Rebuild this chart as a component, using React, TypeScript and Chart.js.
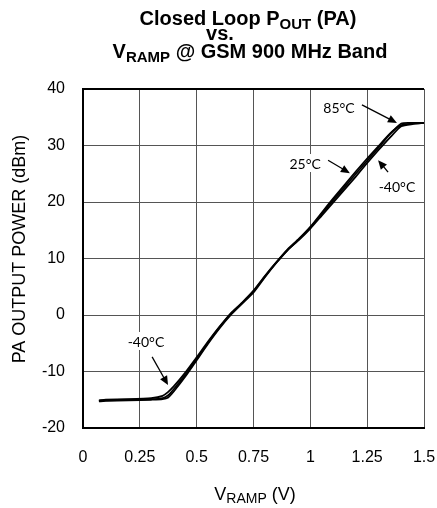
import React, { useEffect, useRef } from 'react';
import { Chart, registerables } from 'chart.js';

Chart.register(...registerables);

// ---- data ----
const vRamp = [0.07, 0.1, 0.2, 0.3, 0.35, 0.375, 0.4, 0.45, 0.5, 0.55, 0.6, 0.65, 0.7, 0.75, 0.8, 0.85, 0.9, 0.95, 1.0, 1.05, 1.1, 1.15, 1.2, 1.25, 1.3, 1.35, 1.4, 1.45, 1.5];
const pout85 = [-15.3, -15.2, -15.1, -15.0, -14.9, -14.6, -13.5, -10.9, -8.0, -5.1, -2.4, 0.0, 2.0, 4.0, 6.7, 9.2, 11.5, 13.4, 15.5, 17.9, 20.3, 22.6, 25.0, 27.3, 29.6, 32.0, 33.9, 34.0, 34.0];
const pout25 = [-15.2, -15.1, -15.0, -14.9, -14.7, -14.2, -13.1, -10.6, -7.8, -4.9, -2.2, 0.2, 2.1, 4.2, 6.8, 9.3, 11.6, 13.5, 15.6, 18.1, 20.6, 23.0, 25.4, 27.7, 29.9, 32.1, 33.6, 33.9, 34.0];
const poutM40 = [-15.1, -15.0, -14.9, -14.7, -14.3, -13.6, -12.6, -10.2, -7.5, -4.7, -2.1, 0.3, 2.2, 4.3, 6.9, 9.3, 11.5, 13.3, 15.3, 17.6, 19.9, 22.2, 24.5, 26.9, 29.2, 31.4, 33.4, 33.8, 34.0];

const xTicks = [0, 0.25, 0.5, 0.75, 1, 1.25, 1.5];
const xTickLabels = ['0', '0.25', '0.5', '0.75', '1', '1.25', '1.5'];
const yTicks = [-20, -10, 0, 10, 20, 30, 40];

// annotations (data coordinates)
const noteTexts = ['85°C', '25°C', '-40°C', '-40°C'];
const noteX = [1.126, 0.977, 1.381, 0.277];
const noteY = [36.8, 26.9, 22.8, -4.6];
const arrowFromX = [1.227, 1.078, 1.342, 0.304];
const arrowFromY = [37.2, 27.4, 25.3, -7.4];
const arrowToX = [1.381, 1.174, 1.298, 0.374];
const arrowToY = [34.0, 25.1, 27.4, -12.4];

const titleLines = [
  [{ t: 'Closed Loop P' }, { t: 'OUT', sub: true }, { t: ' (PA)' }],
  [{ t: 'vs.' }],
  [{ t: 'V' }, { t: 'RAMP', sub: true }, { t: ' @ GSM 900 MHz Band' }],
];
const xTitle = [{ t: 'V' }, { t: 'RAMP', sub: true }, { t: ' (V)' }];
const yTitle = 'PA OUTPUT POWER (dBm)';

const FONT = '"Liberation Sans", Arial, sans-serif';

type Seg = { t: string; sub?: boolean };

function drawRich(ctx: CanvasRenderingContext2D, segs: Seg[], cx: number, baseY: number, size: number, weight: string) {
  const subSize = Math.round(size * 0.75);
  let total = 0;
  const widths = segs.map((s) => {
    ctx.font = `${weight} ${s.sub ? subSize : size}px ${FONT}`;
    const w = ctx.measureText(s.t).width;
    total += w;
    return w;
  });
  let x = cx - total / 2;
  ctx.textAlign = 'left';
  ctx.textBaseline = 'alphabetic';
  ctx.fillStyle = '#000';
  segs.forEach((s, i) => {
    ctx.font = `${weight} ${s.sub ? subSize : size}px ${FONT}`;
    ctx.fillText(s.t, x, s.sub ? baseY + size * 0.18 : baseY);
    x += widths[i];
  });
}

const textPlugin = {
  id: 'textPlugin',
  afterDatasetsDraw(chart: any) {
    const ctx: CanvasRenderingContext2D = chart.ctx;
    const xs = chart.scales.x;
    const ys = chart.scales.y;
    ctx.save();
    // annotations
    for (let i = 0; i < noteTexts.length; i++) {
      const px = xs.getPixelForValue(noteX[i]);
      const py = ys.getPixelForValue(noteY[i]);
      ctx.font = `14px Lato, ${FONT}`;
      const w = ctx.measureText(noteTexts[i]).width;
      ctx.fillStyle = '#fff';
      ctx.fillRect(px - w / 2 - 2, py - 9, w + 4, 18);
      ctx.fillStyle = '#000';
      ctx.textAlign = 'center';
      ctx.textBaseline = 'middle';
      ctx.fillText(noteTexts[i], px, py + 1);
      const x1 = xs.getPixelForValue(arrowFromX[i]);
      const y1 = ys.getPixelForValue(arrowFromY[i]);
      const x2 = xs.getPixelForValue(arrowToX[i]);
      const y2 = ys.getPixelForValue(arrowToY[i]);
      const ang = Math.atan2(y2 - y1, x2 - x1);
      const hl = 9, hw = 4;
      ctx.strokeStyle = '#000';
      ctx.lineWidth = 1.3;
      ctx.beginPath();
      ctx.moveTo(x1, y1);
      ctx.lineTo(x2 - Math.cos(ang) * hl * 0.8, y2 - Math.sin(ang) * hl * 0.8);
      ctx.stroke();
      ctx.beginPath();
      ctx.moveTo(x2, y2);
      ctx.lineTo(x2 - Math.cos(ang) * hl - Math.sin(ang) * hw, y2 - Math.sin(ang) * hl + Math.cos(ang) * hw);
      ctx.lineTo(x2 - Math.cos(ang) * hl + Math.sin(ang) * hw, y2 - Math.sin(ang) * hl - Math.cos(ang) * hw);
      ctx.closePath();
      ctx.fillStyle = '#000';
      ctx.fill();
    }
    // titles
    drawRich(ctx, titleLines[0], 248, 25, 20, 'bold');
    drawRich(ctx, titleLines[1], 220, 40, 20, 'bold');
    drawRich(ctx, titleLines[2], 250, 58, 20, 'bold');
    drawRich(ctx, xTitle, 255, 500, 18, 'normal');
    ctx.translate(20, 249);
    ctx.rotate(-Math.PI / 2);
    ctx.font = `18px ${FONT}`;
    ctx.textAlign = 'center';
    ctx.textBaseline = 'middle';
    ctx.fillStyle = '#000';
    ctx.fillText(yTitle, 0, 0);
    ctx.restore();
  },
};

export default function App() {
  const ref = useRef<HTMLCanvasElement>(null);
  useEffect(() => {
    if (!ref.current) return;
    const line = (data: number[]) => ({
      data: vRamp.map((v, i) => ({ x: v, y: data[i] })),
      borderColor: '#000',
      borderWidth: 1.8,
      pointRadius: 0,
      tension: 0.2,
      fill: false,
    });
    const chart = new Chart(ref.current, {
      type: 'line',
      data: { datasets: [line(pout85), line(pout25), line(poutM40)] as any },
      options: {
        responsive: false,
        animation: false,
        events: [],
        layout: { padding: { top: 89, right: 13, left: 0, bottom: 0 } },
        plugins: { legend: { display: false }, tooltip: { enabled: false }, title: { display: false } },
        scales: {
          x: {
            type: 'linear',
            min: 0,
            max: 1.5,
            afterBuildTicks: (s: any) => { s.ticks = xTicks.map((v) => ({ value: v })); },
            afterFit: (s: any) => { s.height = 80; s.paddingRight = 0; s.paddingLeft = 0; },
            ticks: {
              autoSkip: false,
              maxRotation: 0,
              padding: 20,
              color: '#000',
              font: { family: FONT, size: 16 },
              callback: (v: any) => { const i = xTicks.indexOf(Number(v)); return i >= 0 ? xTickLabels[i] : ''; },
            },
            grid: { color: '#555', lineWidth: 1, drawTicks: false },
            border: { color: '#000', width: 2 },
          },
          y: {
            type: 'linear',
            min: -20,
            max: 40,
            afterBuildTicks: (s: any) => { s.ticks = yTicks.map((v) => ({ value: v })); },
            afterFit: (s: any) => { s.width = 83; },
            ticks: {
              padding: 18,
              color: '#000',
              font: { family: FONT, size: 16 },
              callback: (v: any) => String(v),
            },
            grid: { color: (c: any) => (c.tick && c.tick.value === 40 ? '#000' : '#555'), lineWidth: (c: any) => (c.tick && c.tick.value === 40 ? 2 : 1), drawTicks: false },
            border: { color: '#000', width: 2 },
          },
        },
      },
      plugins: [textPlugin],
    });
    return () => chart.destroy();
  }, []);
  return (
    <div style={{ position: 'fixed', left: 0, top: 0, width: 437, height: 508, background: '#fff' }}>
      <canvas ref={ref} width={437} height={508} style={{ display: 'block', width: 437, height: 508 }} />
    </div>
  );
}
